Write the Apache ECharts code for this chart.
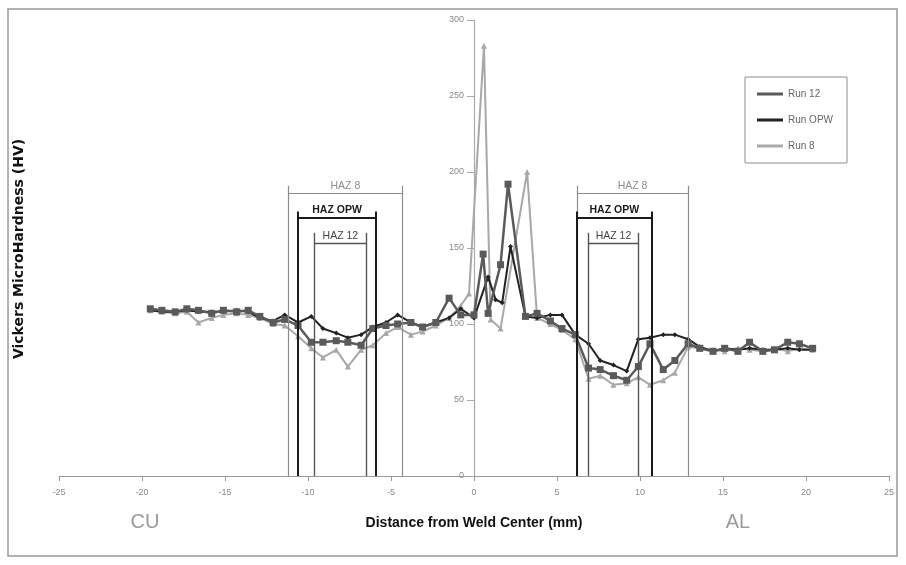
<!DOCTYPE html>
<html>
<head>
<meta charset="utf-8">
<script src="https://cdn.jsdelivr.net/npm/echarts@6/dist/echarts.min.js"></script>
<style>
  html, body { margin: 0; padding: 0; background: #fff; }
  #chart { width: 906px; height: 565px; }
</style>
</head>
<body>
<div id="chart"></div>
<script>
// Run 12 (squares)
const run12X = [-19.5,-18.8,-18.0,-17.3,-16.6,-15.8,-15.1,-14.3,-13.6,-12.9,-12.1,-11.4,-10.6,-9.8,-9.1,-8.3,-7.6,-6.8,-6.1,-5.3,-4.6,-3.8,-3.1,-2.3,-1.5,-0.8,0,0.55,0.85,1.6,2.05,3.1,3.8,4.6,5.3,6.1,6.9,7.6,8.4,9.2,9.9,10.6,11.4,12.1,12.9,13.6,14.4,15.1,15.9,16.6,17.4,18.1,18.9,19.6,20.4];
const run12Y = [110,109,108,110,109,107,109,108,109,105,101,103,99,88,88,89,88,86,97,99,100,101,98,101,117,106,106,146,107,139,192,105,107,102,97,93,71,70,66,63,72,87,70,76,87,84,82,84,82,88,82,83,88,87,84];

// Run OPW
const runOpwX = [-19.5,-18.8,-18.0,-17.3,-16.6,-15.8,-15.1,-14.3,-13.6,-12.9,-12.1,-11.4,-10.6,-9.8,-9.1,-8.3,-7.6,-6.8,-6.1,-5.3,-4.6,-3.8,-3.1,-2.3,-1.5,-0.8,0,0.85,1.3,1.7,2.2,3.1,3.8,4.6,5.3,6.1,6.9,7.6,8.4,9.2,9.9,10.6,11.4,12.1,12.9,13.6,14.4,15.1,15.9,16.6,17.4,18.1,18.9,19.6,20.4];
const runOpwY = [109,108,108,109,108,108,108,109,108,104,102,106,101,105,97,94,91,93,98,101,106,101,98,101,104,110,104,131,116,114,151,105,104,106,106,93,87,76,73,69,90,91,93,93,90,85,82,84,83,84,83,83,84,83,83];

// Run 8 (triangles)
const run8X = [-19.5,-18.8,-18.0,-17.3,-16.6,-15.8,-15.1,-14.3,-13.6,-12.9,-12.1,-11.4,-10.6,-9.8,-9.1,-8.3,-7.6,-6.8,-6.1,-5.3,-4.6,-3.8,-3.1,-2.3,-1.5,-0.8,-0.3,0.6,1.0,1.6,3.2,3.8,4.6,5.3,6.1,6.9,7.6,8.4,9.2,9.9,10.6,11.4,12.1,12.9,13.6,14.4,15.1,15.9,16.6,17.4,18.1,18.9,19.6,20.4];
const run8Y = [109,108,107,108,101,104,106,107,106,104,100,99,92,84,78,83,72,83,86,94,98,93,95,99,104,112,120,283,103,97,200,104,100,96,90,64,66,60,61,65,60,63,68,85,84,83,82,84,83,82,84,82,84,83];

// heat affected zone brackets
const hazNames = ['HAZ 8', 'HAZ OPW', 'HAZ 12', 'HAZ 8', 'HAZ OPW', 'HAZ 12'];
const hazLeft = [-11.2, -10.6, -9.6, 6.2, 6.2, 6.9];
const hazRight = [-4.3, -5.9, -6.5, 12.9, 10.7, 9.9];
const hazBar = [186, 170, 153, 186, 170, 153];
const hazTop = [191, 174, 160, 191, 174, 160];

const xTicks = [-25, 25, 5];
const yTicks = [0, 300, 50];

const hazStyle = {
  'HAZ 8': { color: '#8c8c8c', width: 1.2, weight: 'normal', text: '#8c8c8c' },
  'HAZ OPW': { color: '#1a1a1a', width: 2, weight: 'bold', text: '#1a1a1a' },
  'HAZ 12': { color: '#555', width: 1.4, weight: 'normal', text: '#444' }
};

function pairs(xs, ys) {
  return xs.map((x, i) => [x, ys[i]]);
}

const hazLines = [];
for (let i = 0; i < hazNames.length; i++) {
  const s = hazStyle[hazNames[i]];
  const ls = { color: s.color, width: s.width, type: 'solid' };
  hazLines.push([{ coord: [hazLeft[i], 0], lineStyle: ls, label: { show: false } }, { coord: [hazLeft[i], hazTop[i]] }]);
  hazLines.push([{ coord: [hazRight[i], 0], lineStyle: ls, label: { show: false } }, { coord: [hazRight[i], hazTop[i]] }]);
  hazLines.push([{
    coord: [hazLeft[i], hazBar[i]], lineStyle: ls,
    label: { show: true, position: 'middle', formatter: hazNames[i], color: s.text, fontWeight: s.weight, fontSize: 10.5, distance: 2, fontFamily: 'Liberation Sans' }
  }, { coord: [hazRight[i], hazBar[i]] }]);
}

const gridLeft = 59, gridRight = 17;
const plotW = 906 - gridLeft - gridRight;
// move the value axis to x = 0, in the middle of the plot
const yAxisShift = -plotW * (0 - xTicks[0]) / (xTicks[1] - xTicks[0]);

const chart = echarts.init(document.getElementById('chart'));
chart.setOption({
  animation: false,
  textStyle: { fontFamily: 'Liberation Sans' },
  grid: { left: gridLeft, right: gridRight, top: 20, bottom: 89 },
  legend: {
    orient: 'vertical', left: 745, top: 77,
    padding: [12, 14, 12, 12], itemGap: 16,
    itemWidth: 26, itemHeight: 3,
    borderColor: '#8c8c8c', borderWidth: 1,
    textStyle: { color: '#666', fontSize: 10 },
    data: [{ name: 'Run 12', icon: 'rect' }, { name: 'Run OPW', icon: 'rect' }, { name: 'Run 8', icon: 'rect' }]
  },
  xAxis: {
    type: 'value', min: xTicks[0], max: xTicks[1], interval: xTicks[2],
    axisLine: { lineStyle: { color: '#999', width: 1.2 } },
    axisTick: { show: true, length: 5, lineStyle: { color: '#999' } },
    axisLabel: { color: '#888', fontSize: 9, margin: 12 },
    splitLine: { show: false }
  },
  yAxis: {
    type: 'value', min: yTicks[0], max: yTicks[1], interval: yTicks[2],
    offset: yAxisShift,
    axisLine: { show: true, onZero: false, lineStyle: { color: '#aaa', width: 1.2 } },
    axisTick: { show: true, length: 7, lineStyle: { color: '#aaa' } },
    axisLabel: { color: '#888', fontSize: 9, margin: 10 },
    splitLine: { show: false }
  },
  graphic: [
    { type: 'rect', shape: { x: 8, y: 9, width: 889, height: 547 }, style: { fill: 'none', stroke: '#999', lineWidth: 1.5 }, silent: true },
    { type: 'text', x: 19, y: 249, rotation: Math.PI / 2, style: { text: 'Vickers MicroHardness (HV)', fill: '#111', fontSize: 14, fontWeight: 'bold', fontFamily: 'DejaVu Sans', align: 'center', verticalAlign: 'middle' } },
    { type: 'text', x: 474, y: 523, style: { text: 'Distance from Weld Center (mm)', fill: '#111', fontSize: 14, fontWeight: 'bold', fontFamily: 'Liberation Sans', align: 'center', verticalAlign: 'middle' } },
    { type: 'text', x: 145, y: 522, style: { text: 'CU', fill: '#9a9a9a', fontSize: 20, fontFamily: 'Liberation Sans', align: 'center', verticalAlign: 'middle' } },
    { type: 'text', x: 738, y: 522, style: { text: 'AL', fill: '#9a9a9a', fontSize: 20, fontFamily: 'Liberation Sans', align: 'center', verticalAlign: 'middle' } }
  ],
  series: [
    {
      name: 'HAZ', type: 'line', data: [], silent: true,
      markLine: { symbol: 'none', silent: true, animation: false, data: hazLines }
    },
    {
      name: 'Run 8', type: 'line', data: pairs(run8X, run8Y),
      color: '#a8a8a8', symbol: 'triangle', symbolSize: 6,
      lineStyle: { width: 2, color: '#a8a8a8' }, itemStyle: { color: '#a8a8a8' }
    },
    {
      name: 'Run OPW', type: 'line', data: pairs(runOpwX, runOpwY),
      color: '#222', symbol: 'diamond', symbolSize: 5,
      lineStyle: { width: 2, color: '#222' }, itemStyle: { color: '#222' }
    },
    {
      name: 'Run 12', type: 'line', data: pairs(run12X, run12Y),
      color: '#5a5a5a', symbol: 'rect', symbolSize: 7,
      lineStyle: { width: 2.5, color: '#5a5a5a' }, itemStyle: { color: '#5a5a5a' }
    }
  ]
});
</script>
</body>
</html>
